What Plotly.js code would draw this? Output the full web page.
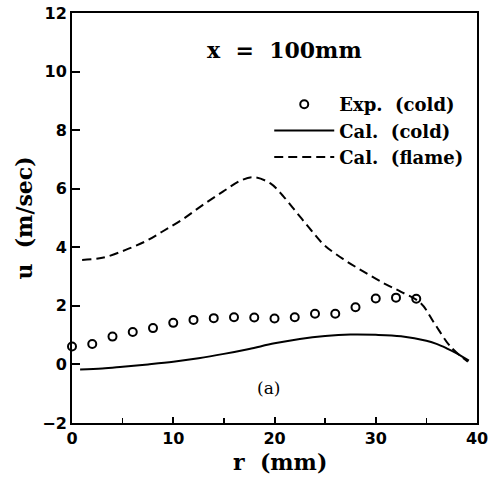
<!DOCTYPE html>
<html>
<head>
<meta charset="utf-8">
<script src="https://cdn.plot.ly/plotly-3.0.1.min.js"></script>
<style>html,body{margin:0;padding:0;background:#fff;}#chart{width:492px;height:479px;}</style>
</head>
<body>
<div id="chart"></div>
<script>
// Experimental (cold) points
var expR = [0, 2, 4, 6, 8, 10, 12, 14, 16, 18, 20, 22, 24, 26, 28, 30, 32, 34];
var expU = [0.61, 0.70, 0.95, 1.11, 1.24, 1.42, 1.52, 1.58, 1.61, 1.60, 1.57, 1.61, 1.73, 1.73, 1.95, 2.25, 2.28, 2.24];

// Calculated (cold)
var calColdR = [0.8, 3, 5, 7.5, 10, 12.5, 15, 17.5, 20, 22.5, 25, 27.5, 30, 32.5, 35, 36, 37, 38, 39.2];
var calColdU = [-0.17, -0.14, -0.08, 0.0, 0.09, 0.21, 0.36, 0.53, 0.72, 0.87, 0.97, 1.02, 1.01, 0.96, 0.81, 0.70, 0.55, 0.38, 0.13];

// Calculated (flame)
var calFlameR = [1.0, 3.0, 5.3, 7.3, 8.9, 10.9, 12.9, 14.9, 16.8, 18.0, 19.6, 20.9, 22.25, 23.6, 24.9, 26.9, 28.8, 30.8, 32.5, 34.45, 35.8, 37.4, 39.1];
var calFlameU = [3.57, 3.64, 3.91, 4.21, 4.53, 4.95, 5.44, 5.90, 6.30, 6.39, 6.18, 5.73, 5.16, 4.59, 4.08, 3.57, 3.17, 2.77, 2.48, 2.09, 1.40, 0.60, 0.09];

var legendNames = ["Exp.&nbsp;&nbsp;(cold)", "Cal.&nbsp;&nbsp;(cold)", "Cal.&nbsp;&nbsp;(flame)"];
var xTicks = [0, 10, 20, 30, 40];
var yTicks = [-2, 0, 2, 4, 6, 8, 10, 12];

var serif = "DejaVu Serif, Liberation Serif, serif";

var traces = [
  {x: expR, y: expU, name: legendNames[0], mode: "markers", type: "scatter", cliponaxis: false,
   marker: {symbol: "circle-open", size: 8, color: "#000", line: {width: 2, color: "#000"}}},
  {x: calColdR, y: calColdU, name: legendNames[1], mode: "lines", type: "scatter", line: {color: "#000", width: 2, shape: "spline"}},
  {x: calFlameR, y: calFlameU, name: legendNames[2], mode: "lines", type: "scatter", line: {color: "#000", width: 2, dash: "9px,5px", shape: "spline"}}
];

var layout = {
  width: 492, height: 479,
  margin: {l: 72, r: 15, t: 13, b: 56},
  paper_bgcolor: "#fff", plot_bgcolor: "#fff",
  showlegend: true,
  legend: {x: 0.487, xanchor: "left", y: 0.822, yanchor: "top", bgcolor: "rgba(0,0,0,0)",
    font: {family: serif, size: 18, color: "#000", weight: "bold"}, itemwidth: 60, tracegroupgap: 0},
  xaxis: {range: [0, 40], tickvals: xTicks, ticks: "inside", ticklen: 6, tickwidth: 2, tickcolor: "#000",
    showline: true, linecolor: "#000", linewidth: 2, mirror: true, showgrid: false, zeroline: false,
    minor: {dtick: 5, tick0: 0, ticks: "inside", ticklen: 5, tickwidth: 1.5, tickcolor: "#000", showgrid: false},
    tickfont: {family: "DejaVu Sans, sans-serif", size: 16, color: "#000", weight: "bold"}},
  yaxis: {range: [-2, 12], tickvals: yTicks, ticks: "inside", ticklen: 8, tickwidth: 2, tickcolor: "#000",
    showline: true, linecolor: "#000", linewidth: 2, mirror: true, showgrid: false, zeroline: false,
    tickfont: {family: "DejaVu Sans, sans-serif", size: 16, color: "#000", weight: "bold"},
    title: {text: "u&nbsp;&nbsp;(m/sec)", standoff: 4, font: {family: serif, size: 22, color: "#000", weight: "bold"}}},
  annotations: [
    {x: 0.513, y: -0.094, xref: "paper", yref: "paper", yanchor: "middle", text: "r&nbsp;&nbsp;(mm)", showarrow: false,
     font: {family: serif, size: 22, color: "#000", weight: "bold"}},
    {x: 21, y: 10.75, xref: "x", yref: "y", text: "x&nbsp;&nbsp;=&nbsp;&nbsp;100mm", showarrow: false,
     font: {family: serif, size: 22, color: "#000", weight: "bold"}},
    {x: 19.4, y: -0.8, xref: "x", yref: "y", text: "(a)", showarrow: false,
     font: {family: serif, size: 17, color: "#000"}}
  ]
};

Plotly.newPlot("chart", traces, layout, {staticPlot: true, displayModeBar: false});
</script>
</body>
</html>
